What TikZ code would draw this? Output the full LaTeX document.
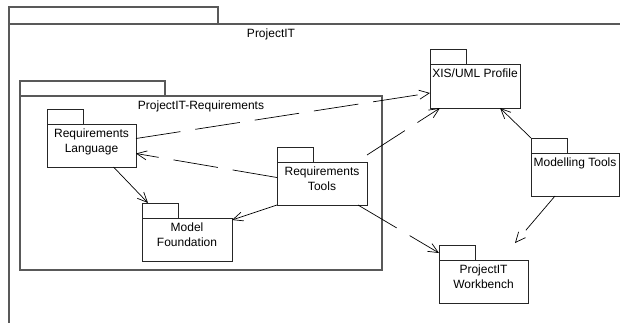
\documentclass[tikz,border=0pt]{standalone}
\usepackage{fontspec}
\setmainfont{Liberation Sans}
\usetikzlibrary{arrows.meta,positioning}
\newcommand{\pkgcol}{black!65}
\newcommand{\boxcol}{black!85}

\begin{document}
\begin{tikzpicture}[x=1pt, y=-1pt,
    font=\fontsize{12}{15.5}\selectfont,
    pkg/.style={draw=\boxcol, line width=0.8pt, rectangle, anchor=north west,
      minimum width=90pt, minimum height=43pt, inner sep=0pt, outer sep=0pt},
    bigpkg/.style={draw=\pkgcol, line width=1.1pt, rectangle, anchor=north west,
      inner sep=0pt, outer sep=0pt},
    pkgname/.style={align=center, inner sep=4.5pt},
    dep/.style={draw=black, line width=0.7pt, dash pattern=on 45pt off 15pt,
      -{Straight Barb[length=10pt,width=9pt]}},
    use/.style={draw=black, line width=0.7pt, -{Straight Barb[length=10pt,width=9pt]}}]

    \useasboundingbox (0,0) rectangle (620,322);

    % outer packages
    \node[bigpkg, minimum width=640pt, minimum height=320pt] (projectit) at (9,24) {};
    \draw[draw=\pkgcol, line width=1.1pt] (projectit.north west) -- ++(0,-17) -- ++(209,0) -- ++(0,17);
    \node[pkgname] (projectitlbl) at (271,24) [anchor=north] {ProjectIT};

    \node[bigpkg, minimum width=362pt, minimum height=174pt] (reqs) at (20,96) {};
    \draw[draw=\pkgcol, line width=1.1pt] (reqs.north west) -- ++(0,-15) -- ++(145,0) -- ++(0,15);
    \node[pkgname, below=0pt of reqs.north] (reqslbl) {ProjectIT-Requirements};

    % packages
    \node[pkg, minimum width=89pt] (lang) at (47,124) {};
    \node[pkg] (tools) at (277,162) {};
    \node[pkg] (model) at (142,218) {};
    \node[pkg, minimum height=44pt] (xis) at (430,64) {};
    \node[pkg, minimum width=88pt] (mod) at (531,153) {};
    \node[pkg, minimum width=89pt] (bench) at (439,260) {};

    \foreach \n in {lang, tools, model, xis, mod, bench}
      \draw[draw=\boxcol, line width=0.8pt] (\n.north west) -- ++(0,-15) -- ++(36,0) -- ++(0,15);

    \node[pkgname, below=0pt of lang.north] (langlbl) {Requirements\\Language};
    \node[pkgname, below=0pt of tools.north] (toolslbl) {Requirements\\Tools};
    \node[pkgname, below=0pt of model.north] (modellbl) {Model\\Foundation};
    \node[pkgname, below=0pt of xis.north] (xislbl) {XIS/UML Profile};
    \node[pkgname, below=0pt of mod.north] (modlbl) {Modelling Tools};
    \node[pkgname, below=0pt of bench.north] (benchlbl) {ProjectIT\\Workbench};

    % dependencies
    \draw[dep] ([yshift=7pt]lang.east) -- ([yshift=-7pt]xis.west);
    \draw[dep] ([yshift=6pt]tools.west) -- ([yshift=-8pt]lang.east);
    \draw[dep] ([yshift=7pt]tools.north east) -- ([xshift=10pt]xis.south west);
    \draw[dep] ([xshift=-9pt]tools.south east) -- ([yshift=7pt]bench.north west);
    \draw[dep] ([xshift=-20pt]mod.south) -- ([xshift=-13pt,yshift=17pt]bench.north east);
    \draw[use] ([xshift=22pt]lang.south) -- ([xshift=6pt,yshift=15pt]model.north west);
    \draw[use] (tools.south west) -- ([yshift=-2pt]model.north east);
    \draw[use] ([yshift=15pt]mod.north west) -- ([xshift=25pt]xis.south);

\end{tikzpicture}
\end{document}
